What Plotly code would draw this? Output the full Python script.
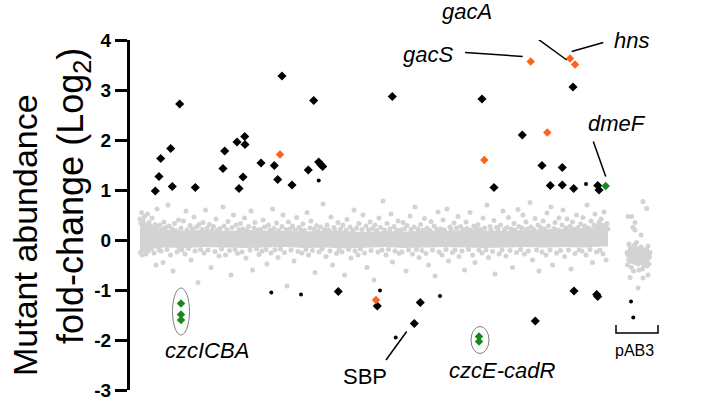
import plotly.graph_objects as go

# ---------------- data ----------------
# genome position (arbitrary units along chromosome; pAB3 plasmid at the end)
band_x = [10, 20, 35, 55, 75, 95, 115, 135, 155, 175, 195, 215, 235, 255, 275, 295, 315, 335, 355, 375, 395, 415, 435, 455, 470, 478]
band_hi = [0.32, 0.27, 0.21, 0.19, 0.2, 0.18, 0.2, 0.19, 0.18, 0.17, 0.19, 0.18, 0.16, 0.18, 0.17, 0.19, 0.18, 0.2, 0.19, 0.18, 0.2, 0.21, 0.22, 0.24, 0.26, 0.26]
band_lo = [-0.21, -0.18, -0.15, -0.16, -0.14, -0.15, -0.16, -0.15, -0.14, -0.16, -0.15, -0.17, -0.15, -0.14, -0.16, -0.15, -0.14, -0.15, -0.16, -0.15, -0.14, -0.15, -0.14, -0.15, -0.13, -0.13]

gray_x = [
    10, 10.5, 11, 11.5, 12, 12.5, 13, 14, 14.5, 15, 16, 17, 17.5, 18, 19, 20, 21, 22, 23, 24, 25, 26, 27, 28, 29,
    30, 31, 32.5, 33, 34, 35.5, 37, 38, 39, 40.5, 42, 43, 44.5, 46, 47, 48.5, 49.5,
    51, 52, 53.5, 55, 56, 57, 58.5, 60, 61, 62.5, 64, 65, 66.5, 68, 69,
    70.5, 72, 73, 74, 75.5, 77, 78, 79.5, 81, 82, 83.5, 85, 86, 87.5, 89,
    90, 91.5, 93, 94, 95.5, 97, 98, 99.5, 101, 102, 103.5, 105, 106, 107.5, 109,
    110.5, 112, 113, 114.5, 116, 117, 118.5, 120, 121, 122.5, 124, 125, 126.5, 128, 129,
    130.5, 132, 133, 134.5, 136, 137, 138.5, 140, 141, 142.5, 144, 145, 146.5, 148, 149,
    150.5, 152, 153, 154.5, 156, 157, 158.5, 160, 161, 162.5, 164, 165, 166.5, 168, 169,
    170.5, 172, 173, 174.5, 176, 177, 178.5, 180, 181, 182.5, 184, 185, 186.5, 188, 189,
    190.5, 192, 193, 194.5, 196, 197, 198.5, 200, 201, 202.5, 204, 205, 206.5, 208, 209,
    210.5, 212, 213, 214.5, 216, 217, 218.5, 220, 221, 222.5, 224, 225, 226.5, 228, 229,
    230.5, 232, 233, 234.5, 236, 237, 238.5, 240, 241, 242.5, 244, 245, 246.5, 248, 249,
    250.5, 252, 253, 254.5, 256, 257, 258.5, 260, 261, 262.5, 264, 265, 266.5, 268, 269,
    270.5, 272, 273, 274.5, 276, 277, 278.5, 280, 281, 282.5, 284, 285, 286.5, 288, 289,
    290.5, 292, 293, 294.5, 296, 297, 298.5, 300, 301, 302.5, 304, 305, 306.5, 308, 309,
    310.5, 312, 313, 314.5, 316, 317, 318.5, 320, 321, 322.5, 324, 325, 326.5, 328, 329,
    330.5, 332, 333, 334.5, 336, 337, 338.5, 340, 341, 342.5, 344, 345, 346.5, 348, 349,
    350.5, 352, 353, 354.5, 356, 357, 358.5, 360, 361, 362.5, 364, 365, 366.5, 368, 369,
    370.5, 372, 373, 374.5, 376, 377, 378.5, 380, 381, 382.5, 384, 385, 386.5, 388, 389,
    390.5, 392, 393, 394.5, 396, 397, 398.5, 400, 401, 402.5, 404, 405, 406.5, 408, 409,
    410.5, 412, 413, 414.5, 416, 417, 418.5, 420, 421, 422.5, 424, 425, 426.5, 428, 429,
    430.5, 432, 433, 434.5, 436, 437, 438.5, 440, 441, 442.5, 444, 445, 446.5, 448, 449,
    450.5, 452, 453, 454.5, 456, 457, 458.5, 460, 461, 462.5, 464, 465, 466.5, 468, 469, 470, 471, 472, 473, 474, 475, 476, 477, 478,
]
gray_y = [
    0.42, -0.25, 0.33, 0.55, -0.3, 0.22, 0.38, -0.2, 0.47, 0.3, -0.28, 0.26, 0.52, -0.22, 0.35, 0.28, -0.18, 0.44, 0.24, -0.26, 0.31, -0.5, 0.62, 0.27, -0.2,
    0.3, -0.22, 0.21, -0.45, 0.36, 0.25, -0.19, 0.7, 0.28, -0.3, 0.22, -0.62, 0.33, 0.19, -0.24, 0.4, -0.18,
    0.24, -0.2, 0.38, -0.28, 0.58, 0.2, -0.17, 0.29, -0.4, 0.22, 0.46, -0.22, 0.26, -0.85, 0.31,
    -0.19, 0.21, 0.35, -0.26, 0.6, 0.24, -0.2, 0.31, -0.55, 0.19, 0.27, -0.23, 0.42, 0.2, -0.32,
    0.23, -0.18, 0.66, 0.28, -0.3, 0.2, 0.37, -0.21, -0.7, 0.25, 0.5, -0.19, 0.3, -0.27, 0.21,
    0.33, -0.24, 0.22, 0.44, -0.36, 0.19, 0.27, -0.2, 0.58, -0.6, 0.24, 0.35, -0.18, 0.2, -0.29,
    0.21, -0.22, 0.4, 0.26, -0.19, -0.48, 0.3, 0.2, -0.26, 0.62, 0.23, -0.2, 0.34, -0.35, 0.19,
    -0.18, 0.27, 0.5, -0.25, 0.21, -0.92, 0.36, 0.22, -0.2, 0.28, -0.42, 0.2, 0.45, -0.23, 0.25,
    0.2, -0.26, 0.32, 0.19, -0.19, 0.55, -0.3, 0.24, 0.38, -0.21, 0.22, -0.65, 0.29, 0.18, -0.24,
    0.26, -0.18, 0.72, 0.21, -0.33, 0.3, 0.2, -0.22, 0.46, -0.5, 0.25, 0.19, -0.27, 0.35, -0.2,
    0.22, -0.24, 0.3, -0.7, 0.2, 0.41, -0.19, 0.26, -0.36, 0.19, 0.6, -0.22, 0.24, -0.3, 0.33,
    -0.18, 0.21, 0.5, -0.26, 0.28, -0.55, 0.2, 0.36, -0.21, 0.23, -0.8, 0.3, 0.19, -0.24, 0.44,
    0.25, -0.2, 0.78, 0.2, -0.3, 0.33, -0.19, 0.22, 0.52, -0.44, 0.27, -0.22, 0.2, 0.38, -0.27,
    0.2, -0.24, 0.35, 0.23, -0.62, 0.29, -0.2, 0.48, 0.21, -0.28, 0.26, 0.66, -0.19, 0.22, -0.35,
    0.31, -0.21, 0.2, 0.43, -0.27, 0.24, -0.5, 0.19, 0.37, -0.2, 0.28, -0.72, 0.22, 0.56, -0.24,
    0.22, -0.3, 0.4, 0.2, -0.19, 0.62, -0.42, 0.26, 0.21, -0.25, 0.34, -0.2, 0.24, 0.47, -0.33,
    0.27, -0.22, 0.21, -0.6, 0.36, 0.23, -0.19, 0.55, 0.2, -0.3, 0.28, -0.45, 0.22, 0.31, -0.2,
    0.21, -0.26, 0.44, 0.24, -0.2, 0.7, -0.35, 0.27, 0.2, -0.23, 0.39, -0.68, 0.25, 0.22, -0.28,
    0.3, -0.2, 0.58, 0.21, -0.32, 0.25, 0.45, -0.21, 0.22, -0.55, 0.33, 0.2, -0.25, 0.61, 0.27,
    -0.19, 0.24, 0.5, -0.28, 0.36, 0.22, -0.22, 0.75, 0.26, -0.4, 0.21, 0.43, -0.2, 0.3, -0.62,
    0.25, -0.24, 0.38, 0.22, -0.3, 0.54, 0.28, -0.2, 0.66, -0.5, 0.23, 0.35, -0.26, 0.2, 0.44,
    -0.21, 0.3, 0.6, -0.33, 0.24, 0.42, -0.2, 0.27, -0.58, 0.36, 0.22, -0.27, 0.5, 0.25, -0.2,
    0.32, -0.22, 0.45, 0.28, -0.3, 0.7, 0.24, -0.19, 0.38, -0.45, 0.3, 0.52, -0.24, 0.27, 0.35, -0.2, 0.42, 0.3, -0.28, 0.56, 0.26, -0.4, 0.33, 0.22,
]

pab_band_x = [498, 505, 512, 519]
pab_band_hi = [-0.15, -0.12, -0.14, -0.16]
pab_band_lo = [-0.45, -0.5, -0.48, -0.42]
pab_x = [497, 498.5, 500, 501.5, 503, 504.5, 506, 507.5, 509, 510.5, 512, 513.5, 515, 516.5, 518, 519.5,
         497.5, 499, 500.5, 502, 503.5, 505, 506.5, 508, 509.5, 511, 512.5, 514, 515.5, 517, 518.5, 520,
         498, 501, 504, 507, 510, 513, 516, 519,
         498, 501.7, 503, 505, 513, 516.7, 508, 513, 511, 518, 500, 505]
pab_y = [-0.25, -0.4, -0.15, -0.55, -0.3, -0.1, -0.45, -0.22, -0.6, -0.35, -0.18, -0.5, -0.28, -0.42, -0.12, -0.33,
         -0.5, -0.08, -0.32, -0.2, -0.62, -0.38, -0.05, -0.48, -0.25, -0.14, -0.58, -0.3, -0.2, -0.52, -0.36, -0.25,
         -0.3, -0.42, -0.27, -0.35, -0.45, -0.24, -0.38, -0.48,
         0.47, 0.47, 0.25, 0.2, 0.77, 0.63, -0.96, -0.76, 0.1, -0.7, -0.75, 0.35]

hit_x = [25.3, 29, 30.7, 40.7, 42.3, 49.7, 65.3, 93, 94.7, 107, 109, 113, 114.7, 115, 131, 144.3, 147.7, 152,
         162, 178.3, 183.7, 188.7, 190.7, 192.7, 262.3, 352, 364, 392.3, 412, 420.3, 432.3, 432.3, 443, 443.7,
         467.7, 469, 208.3, 247.3, 290.3, 284.3, 405.3, 444, 466.7, 467.7]
hit_y = [0.98, 1.27, 1.63, 1.83, 1.07, 2.72, 1.05, 1.43, 1.78, 1.96, 1.03, 1.26, 2.07, 1.91, 1.54, 1.49, 1.21, 3.28,
         1.10, 1.40, 2.79, 1.56, 1.51, 1.47, 2.87, 2.82, 1.05, 2.10, 1.49, 1.09, 1.45, 1.10, 3.06, 1.03,
         1.09, 1.0, -1.03, -1.32, -1.25, -1.67, -1.62, -1.02, -1.09, -1.13]

small_x = [188.7, 456, 141.3, 171, 250, 265.7, 310, 501, 503.3]
small_y = [1.19, 1.12, -1.05, -1.09, -1.01, -1.95, -1.12, -1.23, -1.55]

orange_x = [150, 400.7, 440, 445, 417.3, 354.3, 246]
orange_y = [1.71, 3.57, 3.63, 3.51, 2.15, 1.60, -1.20]

green_x = [475.7, 51, 51, 51, 349, 349]
green_y = [1.08, -1.27, -1.49, -1.60, -1.93, -2.03]

y_ticks = [-3, -2, -1, 0, 1, 2, 3, 4]

GRAY = "#d3d3d3"

fig = go.Figure()

# dense core of the non-significant mutants
fig.add_trace(go.Scatter(x=band_x + band_x[::-1], y=band_hi + band_lo[::-1], fill="toself",
                         fillcolor=GRAY, mode="lines", line=dict(width=0), hoverinfo="skip"))
fig.add_trace(go.Scatter(x=pab_band_x + pab_band_x[::-1], y=pab_band_hi + pab_band_lo[::-1], fill="toself",
                         fillcolor=GRAY, mode="lines", line=dict(width=0), hoverinfo="skip"))
fig.add_trace(go.Scatter(x=gray_x, y=gray_y, mode="markers",
                         marker=dict(symbol="circle", size=5, color=GRAY), cliponaxis=False))
fig.add_trace(go.Scatter(x=pab_x, y=pab_y, mode="markers",
                         marker=dict(symbol="circle", size=5, color=GRAY), cliponaxis=False))
fig.add_trace(go.Scatter(x=hit_x, y=hit_y, mode="markers",
                         marker=dict(symbol="diamond", size=7, color="black"), cliponaxis=False))
fig.add_trace(go.Scatter(x=small_x, y=small_y, mode="markers",
                         marker=dict(symbol="circle", size=4, color="black"), cliponaxis=False))
fig.add_trace(go.Scatter(x=orange_x, y=orange_y, mode="markers",
                         marker=dict(symbol="diamond", size=6.5, color="#ff6319"), cliponaxis=False))
fig.add_trace(go.Scatter(x=green_x, y=green_y, mode="markers",
                         marker=dict(symbol="diamond", size=6.5, color="#18881c"), cliponaxis=False))

LINE = dict(color="black", width=1.5)
shapes = [
    dict(type="line", x0=375, y0=4.5, x1=436.7, y1=3.6, line=LINE),      # gacA
    dict(type="line", x0=335, y0=3.75, x1=392.7, y1=3.67, line=LINE),    # gacS
    dict(type="line", x0=473.3, y0=3.95, x1=441.7, y1=3.77, line=LINE),  # hns
    dict(type="line", x0=463.3, y0=1.97, x1=475.7, y1=1.27, line=LINE),  # dmeF
    dict(type="line", x0=256, y0=-2.4, x1=276.7, y1=-1.83, line=LINE),   # SBP
    dict(type="path", path="M 486,-1.70 L 486,-1.86 L 528,-1.86 L 528,-1.70", line=LINE),  # pAB3 bracket
    dict(type="circle", x0=42.5, x1=59.5, y0=-1.9, y1=-0.96, line=dict(color="#808080", width=1)),
    dict(type="circle", x0=341, x1=359, y0=-2.27, y1=-1.73, line=dict(color="#808080", width=1)),
]
for s in shapes:
    s["xref"] = "x"
    s["yref"] = "y"
    s["layer"] = "above"

FONT = "Liberation Sans, Arial, sans-serif"
Y0, Y1 = -3, 4


def lab(text, x, y, size=22):
    # y given in data units; placed with paper reference so labels outside the range still show
    return dict(text=text, x=x, y=(y - Y0) / (Y1 - Y0), xref="x", yref="paper", showarrow=False,
                font=dict(family=FONT, size=size, color="black"), xanchor="center", yanchor="middle")


annotations = [
    lab("<i>gacA</i>", 336.7, 4.57),
    lab("<i>gacS</i>", 298.3, 3.70),
    lab("<i>hns</i>", 501.7, 4.0),
    lab("<i>dmeF</i>", 486.7, 2.33),
    lab("<i>czcICBA</i>", 76.7, -2.2),
    lab("SBP", 235, -2.73),
    lab("<i>czcE-cadR</i>", 371.7, -2.6),
    lab("pAB3", 504, -2.2, size=16),
    dict(text="Mutant abundance", x=(25 - 130) / 570, y=(390 - 235) / 350, xref="paper", yref="paper",
         showarrow=False, textangle=-90, font=dict(family=FONT, size=34, color="black"),
         xanchor="center", yanchor="middle"),
    dict(text="fold-change (Log<sub>2</sub>)", x=(73 - 130) / 570, y=(390 - 196) / 350, xref="paper",
         yref="paper", showarrow=False, textangle=-90, font=dict(family=FONT, size=36, color="black"),
         xanchor="center", yanchor="middle"),
]

fig.update_layout(
    width=710, height=399,
    margin=dict(l=130, r=10, t=40, b=9, autoexpand=False),
    plot_bgcolor="white", paper_bgcolor="white",
    showlegend=False,
    shapes=shapes, annotations=annotations,
    xaxis=dict(range=[0, 570], visible=False, automargin=False),
    yaxis=dict(range=[Y0, Y1], tickvals=y_ticks, ticktext=[str(t) for t in y_ticks],
               showline=True, linecolor="black", linewidth=3, ticks="outside", ticklen=12,
               tickwidth=3, tickcolor="black", showgrid=False, zeroline=False,
               automargin=False, ticklabeloverflow="allow",
               tickfont=dict(family=FONT, size=19, color="black", weight="bold")),
)

# remove the browser's default 8px page margin so the figure fills the window exactly
fig.write_html("out.html", config={"displayModeBar": False},
               post_script="document.body.style.margin='0px';")
